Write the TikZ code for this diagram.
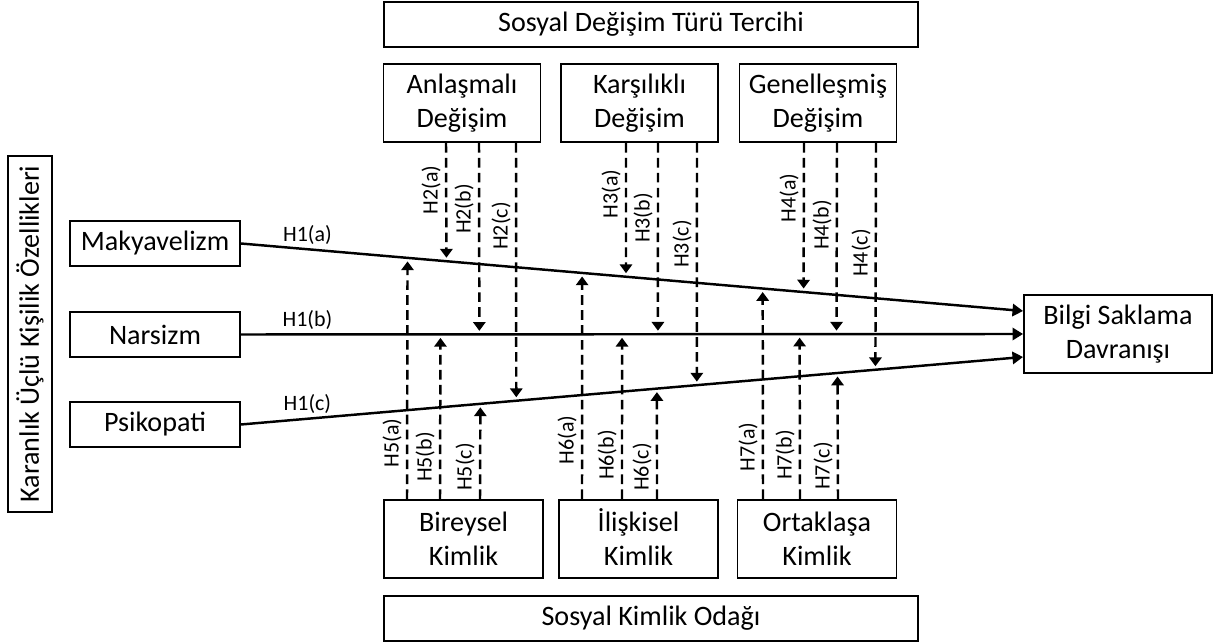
\documentclass[tikz,border=0pt]{standalone}
\usepackage{fontspec}
\setmainfont{Carlito}
\usetikzlibrary{positioning,arrows.meta,calc}

\begin{document}
\begin{tikzpicture}[
  x=0.02cm, y=-0.02cm,
  box/.style    = {rectangle, draw=black, line width=1.1pt, fill=white,
                   align=center, inner sep=0pt,
                   font=\fontsize{16}{19.5}\selectfont},
  trait/.style  = {box, minimum width=3.4cm, minimum height=0.9cm},
  kind/.style   = {box, minimum width=3.14cm, minimum height=1.56cm},
  focus/.style  = {box, minimum width=3.18cm, minimum height=1.56cm},
  banner/.style = {box, minimum width=10.68cm, minimum height=0.9cm},
  lbl/.style    = {font=\fontsize{12.5}{14}\selectfont, inner sep=2pt},
  arr/.style    = {-{Triangle[width=7pt,length=6pt]}, line width=1.4pt},
  darr/.style   = {-{Triangle[width=7pt,length=5pt]}, line width=1.4pt,
                   dash pattern=on 5.5pt off 3pt, shorten >=2pt},
]
\useasboundingbox (0,0) rectangle (1220,644);

% group headings
\node[banner] (tercih) at (651, 24.5)  {Sosyal Değişim Türü Tercihi};
\node[banner] (odak)   at (651, 618.5) {Sosyal Kimlik Odağı};
\node[box, minimum width=7.12cm, minimum height=0.88cm, rotate=90]
      (uclu) at (30, 334) {Karanlık Üçlü Kişilik Özellikleri};

% dark triad traits
\node[trait] (mak) at (155, 243.5) {Makyavelizm};
\node[trait] (nar) at (155, 334.5) {Narsizm};
\node[trait] (psi) at (155, 424.5) {Psikopati};

% outcome
\node[box, minimum width=3.76cm, minimum height=1.56cm]
      (bilgi) at (1118, 334) {Bilgi Saklama\\Davranışı};

% exchange types
\node[kind] (anl) at (462, 103)   {Anlaşmalı\\Değişim};
\node[kind] (kar) at (639.5, 103) {Karşılıklı\\Değişim};
\node[kind] (gen) at (818, 103)   {Genelleşmiş\\Değişim};

% identity focus
\node[focus] (bir) at (463.5, 539) {Bireysel\\Kimlik};
\node[focus] (ili) at (638.5, 539) {\smash{İ}lişkisel\\Kimlik};
\node[focus] (ort) at (817, 539)   {Ortaklaşa\\Kimlik};

% main paths
\coordinate (la0) at (mak.east);
\coordinate (lb0) at (nar.east);
\coordinate (lc0) at (psi.east);
\coordinate (la1) at ($(bilgi.west)+(0,-23)$);
\coordinate (lb1) at (bilgi.west);
\coordinate (lc1) at ($(bilgi.west)+(0,23)$);
\draw[arr] (mak.east) -- node[lbl, above, pos=0.085]{H1(a)} (la1);
\draw[arr] (nar.east) -- node[lbl, above, pos=0.085]{H1(b)} (lb1);
\draw[arr] (psi.east) -- node[lbl, above, pos=0.085]{H1(c)} (lc1);

% moderators from above
\foreach \src/\x/\ln/\k/\ly in {anl/446/a/2/190, anl/479/b/2/209, anl/516/c/2/226,
                               kar/626/a/3/194, kar/658/b/3/218, kar/697/c/3/244,
                               gen/804/a/4/198, gen/837/b/4/225, gen/876/c/4/253}{
  \draw[darr] (\src.south -| \x,0) -- ($(l\ln0)!{(\x-240)/784}!(l\ln1)$);
  \node[lbl, rotate=90] at (\x-15, \ly) {H\k(\ln)};
}

% moderators from below
\foreach \src/\x/\ln/\k/\ly in {bir/407/a/5/443, bir/440/b/5/457, bir/480/c/5/467,
                               ili/582/a/6/440, ili/622/b/6/455, ili/657/c/6/467,
                               ort/763/a/7/447, ort/800/b/7/455, ort/838/c/7/466}{
  \draw[darr] (\src.north -| \x,0) -- ($(l\ln0)!{(\x-240)/784}!(l\ln1)$);
  \node[lbl, rotate=90] at (\x-15, \ly) {H\k(\ln)};
}
\end{tikzpicture}
\end{document}
